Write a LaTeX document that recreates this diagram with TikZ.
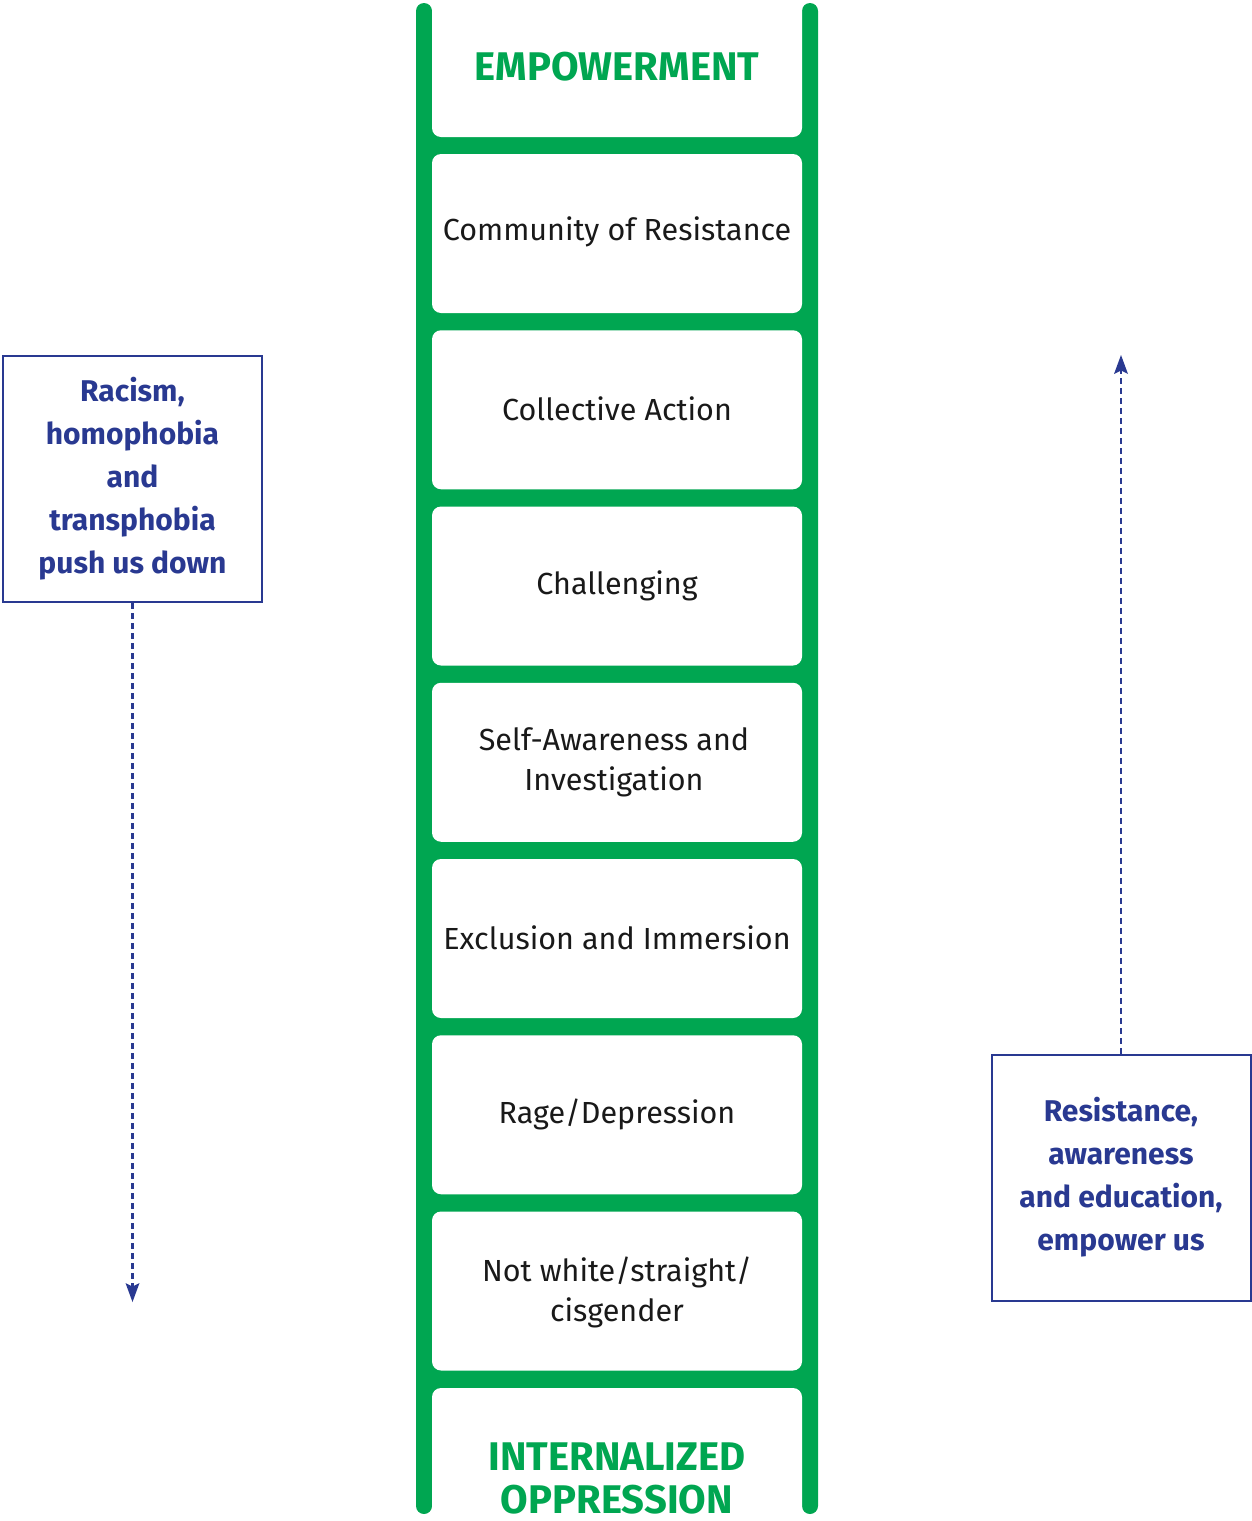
\documentclass[tikz,border=0pt]{standalone}
\usepackage{fontspec}
\setmainfont{Fira Sans}
\definecolor{laddergreen}{RGB}{0,166,81}
\definecolor{labelblue}{RGB}{41,57,145}
\tikzset{
  rung/.style={font=\fontsize{30.5}{40}\selectfont, text=black!90, align=center},
  endlabel/.style={font=\fontsize{40}{43}\selectfont\bfseries, text=laddergreen, align=center},
  forcebox/.style={draw=labelblue, line width=2pt, minimum width=259pt, minimum height=246pt,
    inner sep=0pt, text=labelblue, font=\fontsize{30}{43}\selectfont\bfseries, align=center},
  flow/.style={labelblue, line width=2.2pt, dash pattern=on 6pt off 4pt},
  flowhead/.style={fill=labelblue}
}
\begin{document}
\begin{tikzpicture}[x=1pt, y=-1pt]
	\useasboundingbox (0,0) rectangle (1251,1521);
	% rails and rungs
	\fill[laddergreen, rounded corners=8pt] (416,3) rectangle (432,1514);
	\fill[laddergreen, rounded corners=8pt] (802,3) rectangle (818,1514);
	\fill[laddergreen] (425,127) rectangle (810,1398);
	% open spaces between the rungs
	\fill[white, rounded corners=9pt] (432,-20) rectangle (802,137);
	\foreach \i in {0,...,6}
		\fill[white, rounded corners=9pt] (432,{154+176.25*\i}) rectangle (802,{313+176.25*\i});
	\fill[white, rounded corners=9pt] (432,1388) rectangle (802,1545);
	
	\node[endlabel] (top) at (617,67) {EMPOWERMENT};
	\node[rung] (s7) at (617,232) {Community of Resistance};
	\node[rung] (s6) at (617,409) {Collective Action};
	\node[rung] (s5) at (617,586) {Challenging};
	\node[rung] (s4) at (614,762) {Self-Awareness and\\Investigation};
	\node[rung] (s3) at (617,938) {Exclusion and Immersion};
	\node[rung] (s2) at (617,1114) {Rage/Depression};
	\node[rung] (s1) at (617,1292) {Not white/straight/\\cisgender};
	\node[endlabel] (bottom) at (617,1478) {INTERNALIZED\\OPPRESSION};
	
	% forces on each side
	\node[forcebox] (down) at (132.5,479) {Racism,\\homophobia\\and\\transphobia\\push us down};
	\node[forcebox] (up) at (1121,1177.5) {Resistance,\\awareness\\and education,\\empower us};
	\coordinate (downend) at (132.5,1302);
	\coordinate (upend) at (1121,355);
	\draw[flow] (down.south) -- ++(0,686);
	\fill[flowhead] (downend) -- ++(-7,-19) -- ++(7,3.5) -- ++(7,-3.5) -- cycle;
	\draw[flow] (up.north) -- ++(0,-684);
	\fill[flowhead] (upend) -- ++(-7,19) -- ++(7,-3.5) -- ++(7,3.5) -- cycle;
\end{tikzpicture}
\end{document}
